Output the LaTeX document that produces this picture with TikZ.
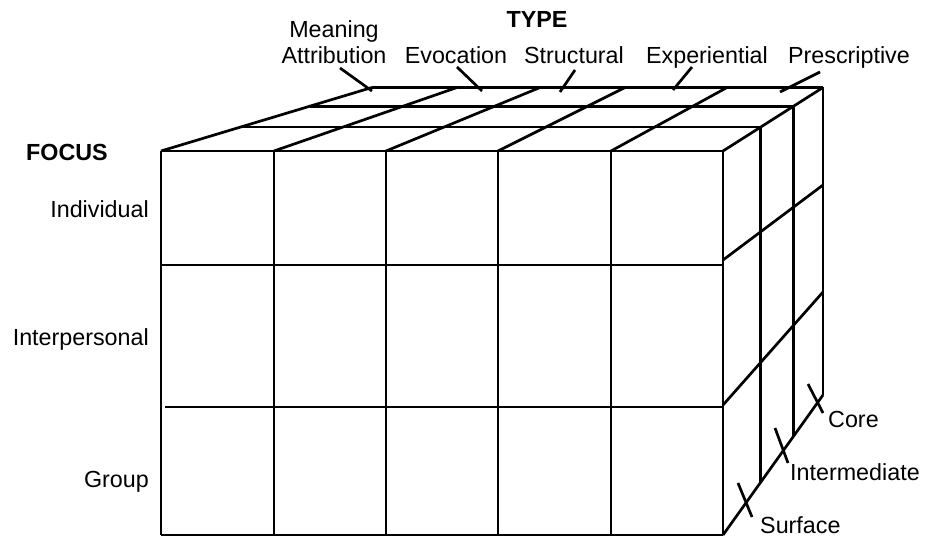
\documentclass[tikz,border=0pt]{standalone}
\usepackage{fontspec}
\setmainfont{Liberation Sans}
\usetikzlibrary{calc}
\begin{document}
\begin{tikzpicture}[x=1pt,y=-1pt,
  edge/.style={draw=black, line width=2.7pt, line cap=butt},
  lbl/.style={inner sep=0pt, font=\fontsize{23.3}{27}\selectfont},
  head/.style={inner sep=0pt, font=\fontsize{23.3}{27}\selectfont\bfseries}]
\useasboundingbox (0,0) rectangle (925,537);

% front face columns (top / bottom) and back edge of the top face
\foreach \i/\fx/\bx in {0/161/372,1/274/457,2/386/540,3/498/625,4/611/727,5/723/823}{
  \coordinate (ft\i) at (\fx,151);
  \coordinate (fb\i) at (\fx,535);
  \coordinate (tb\i) at (\bx,87.5);
}
\coordinate (bb) at (823,395);

% front face grid
\foreach \i in {0,...,5}{ \draw[edge] (ft\i) -- (fb\i); }
\draw[edge] (ft0) -- (ft5);
\draw[edge] (161,265) -- (723,265);
\draw[edge] (165,407) -- (723,407);
\draw[edge] (fb0) -- (fb5);

% top face
\foreach \i in {0,...,5}{ \draw[edge] (ft\i) -- (tb\i); }
\foreach \t in {0.378,0.705}{
  \draw[edge] ($(ft0)!\t!(tb0)$) -- ($(ft5)!\t!(tb5)$);
  \draw[edge] ($(ft5)!\t!(tb5)$) -- ($(fb5)!\t!(bb)$);
}
\draw[edge] (tb0) -- (tb5);

% right face
\draw[edge] (tb5) -- (bb);
\draw[edge] (fb5) -- (bb);
\draw[edge] (723,260) -- (823,185);
\draw[edge] (723,405) -- (823,292);

% TYPE labels
\node[head, anchor=base] (type) at (537,28) {TYPE};
\node[lbl, anchor=base] (mean) at (334,38) {Meaning};
\node[lbl, anchor=base] (attr) at (334,64) {Attribution};
\node[lbl, anchor=base] (evoc) at (456,64) {Evocation};
\node[lbl, anchor=base] (stru) at (574,64) {Structural};
\node[lbl, anchor=base] (expe) at (707,64) {Experiential};
\node[lbl, anchor=base] (pres) at (849,64) {Prescriptive};

\coordinate (a1) at (340,68);  \coordinate (a2) at (372,91);
\coordinate (e1) at (457,67);  \coordinate (e2) at (482,91);
\coordinate (s1) at (575,70);  \coordinate (s2) at (560,92);
\coordinate (x1) at (692,67);  \coordinate (x2) at (673,90);
\coordinate (p1) at (820,72);  \coordinate (p2) at (780,92);
\draw[edge] (a1) -- (a2);
\draw[edge] (e1) -- (e2);
\draw[edge] (s1) -- (s2);
\draw[edge] (x1) -- (x2);
\draw[edge] (p1) -- (p2);

% FOCUS labels
\node[head, anchor=base west] (focus) at (26,161) {FOCUS};
\node[lbl, anchor=base east] (indi) at (149,218) {Individual};
\node[lbl, anchor=base east] (inte) at (149,345) {Interpersonal};
\node[lbl, anchor=base east] (grp) at (149,487) {Group};

% depth labels
\coordinate (c1) at (808,384);  \coordinate (c2) at (823,413);
\coordinate (m1) at (775,428);  \coordinate (m2) at (788,463);
\coordinate (u1) at (738,483);  \coordinate (u2) at (752,517);
\draw[edge] (c1) -- (c2);
\draw[edge] (m1) -- (m2);
\draw[edge] (u1) -- (u2);
\node[lbl, anchor=base west] (core) at (828,427) {Core};
\node[lbl, anchor=base west] (intm) at (790,480) {Intermediate};
\node[lbl, anchor=base west] (surf) at (760,533) {Surface};
\end{tikzpicture}
\end{document}
